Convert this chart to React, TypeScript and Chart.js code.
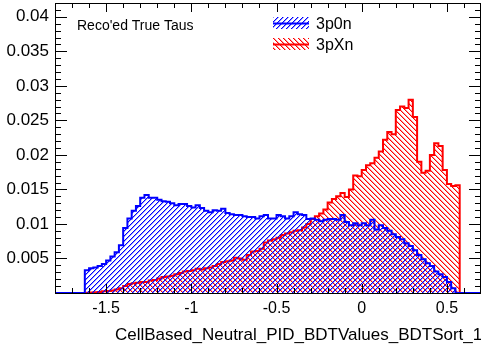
import React, { useEffect, useRef } from "react";
import { Chart, registerables } from "chart.js";
Chart.register(...registerables);

// Histogram binning
const X_MIN = -1.8;
const X_MAX = 0.7;
const BIN_WIDTH = 0.025;
const FIRST_FILLED_EDGE = -1.625;
const Y_MAX = 0.042;

const xTickValues = [-1.5, -1, -0.5, 0, 0.5];
const xTickLabels = ["-1.5", "-1", "-0.5", "0", "0.5"];
const yTickValues = [0.005, 0.01, 0.015, 0.02, 0.025, 0.03, 0.035, 0.04];
const yTickLabels = ["0.005", "0.01", "0.015", "0.02", "0.025", "0.03", "0.035", "0.04"];

const seriesNames = ["3p0n", "3pXn"];
const headerText = "Reco'ed True Taus";
const xTitle = "CellBased_Neutral_PID_BDTValues_BDTSort_1";

const values3p0n = [
  0.0033, 0.0036, 0.0037, 0.0039, 0.0042, 0.0047, 0.0053, 0.0059, 0.0069, 0.0094,
  0.0108, 0.0119, 0.0126, 0.0138, 0.0142, 0.0138, 0.0138, 0.0135, 0.0133, 0.0132,
  0.013, 0.0127, 0.0129, 0.0129, 0.0126, 0.0124, 0.0127, 0.0123, 0.0119, 0.0117,
  0.012, 0.0119, 0.0122, 0.0116, 0.0114, 0.0113, 0.0113, 0.0111, 0.011, 0.011,
  0.0108, 0.0111, 0.0113, 0.0108, 0.0108, 0.0113, 0.0111, 0.0108, 0.0111, 0.0117,
  0.0114, 0.0113, 0.0107, 0.0108, 0.0106, 0.0104, 0.0106, 0.0107, 0.0107, 0.0106,
  0.0113, 0.0103, 0.0098, 0.0101, 0.0098, 0.0101, 0.0098, 0.0106, 0.0092, 0.0098,
  0.0094, 0.009, 0.0085, 0.0081, 0.0078, 0.0072, 0.0068, 0.0062, 0.0055, 0.0049,
  0.0043, 0.0039, 0.0031, 0.0027, 0.0023, 0.0016, 0.0007,
];

const values3pXn = [
  0.00003, 0.00006, 0.0001, 0.00015, 0.00025, 0.0003, 0.00035, 0.0005, 0.0007, 0.001,
  0.0013, 0.0014, 0.0015, 0.0016, 0.0016, 0.0018, 0.0019, 0.0021, 0.0023, 0.0024,
  0.0025, 0.0027, 0.0029, 0.0031, 0.0032, 0.0033, 0.0035, 0.0034, 0.0036, 0.0037,
  0.0039, 0.0042, 0.0045, 0.0046, 0.0047, 0.0051, 0.005, 0.0048, 0.0055, 0.006,
  0.0061, 0.0064, 0.0073, 0.0076, 0.0078, 0.008, 0.0084, 0.0086, 0.0088, 0.009,
  0.0091, 0.0095, 0.01, 0.0107, 0.0111, 0.0115, 0.0121, 0.0131, 0.0136, 0.014,
  0.0145, 0.0139, 0.015, 0.017, 0.0169, 0.0178, 0.0185, 0.0188, 0.0196, 0.0205,
  0.0222, 0.0233, 0.023, 0.0265, 0.027, 0.0268, 0.028, 0.0255, 0.019, 0.0174,
  0.0177, 0.02, 0.0217, 0.0213, 0.0178, 0.0158, 0.0155, 0.0156,
];

const FONT = "'Liberation Sans', Arial, Helvetica, sans-serif";

function histPoints(values: number[]) {
  const nBins = Math.round((X_MAX - X_MIN) / BIN_WIDTH);
  const offset = Math.round((FIRST_FILLED_EDGE - X_MIN) / BIN_WIDTH);
  const pts: { x: number; y: number }[] = [];
  for (let i = 0; i < nBins; i++) {
    const j = i - offset;
    const v = j >= 0 && j < values.length ? values[j] : 0;
    pts.push({ x: X_MIN + i * BIN_WIDTH, y: v });
  }
  pts.push({ x: X_MAX, y: 0 });
  return pts;
}

function makeHatch(color: string, dir: "/" | "\\") {
  const s = 5;
  const c = document.createElement("canvas");
  c.width = s;
  c.height = s;
  const g = c.getContext("2d")!;
  g.fillStyle = color;
  for (let i = 0; i < s; i++) {
    const y = dir === "/" ? s - 1 - i : i;
    g.globalAlpha = 1;
    g.fillRect(i, y, 1, 1);
    g.globalAlpha = 0.4;
    g.fillRect((i + 1) % s, y, 1, 1);
  }
  return g.createPattern(c, "repeat")!;
}

export default function App() {
  const ref = useRef<HTMLCanvasElement>(null);

  useEffect(() => {
    const canvas = ref.current!;
    const ctx = canvas.getContext("2d")!;
    const bluePat = makeHatch("#0000ff", "/");
    const redPat = makeHatch("#ff0000", "\\");

    const framePlugin = {
      id: "rootFrame",
      afterDraw(chart: any) {
        const c = chart.ctx as CanvasRenderingContext2D;
        const area = chart.chartArea;
        const L = Math.round(area.left);
        const R = Math.round(area.right);
        const T = Math.round(area.top);
        const B = Math.round(area.bottom);
        const xs = chart.scales.x;
        const ys = chart.scales.y;
        c.save();
        c.fillStyle = "#000000";
        // frame
        c.fillRect(L, T, R - L, 1);
        c.fillRect(L, B, R - L, 1);
        c.fillRect(L, T, 1, B - T + 1);
        c.fillRect(R - 1, T, 1, B - T + 1);
        // x ticks (bottom and top)
        for (let i = -18; i <= 7; i++) {
          const px = Math.round(xs.getPixelForValue(i / 10));
          const len = i % 5 === 0 ? 9 : 5;
          c.fillRect(px, B - len, 1, len);
          c.fillRect(px, T, 1, len);
        }
        // y ticks (left and right)
        for (let i = 1; i <= 42; i++) {
          const py = Math.round(ys.getPixelForValue(i / 1000));
          const len = i % 5 === 0 ? 12 : 6;
          c.fillRect(L, py, len, 1);
          c.fillRect(R - len, py, len, 1);
        }
        // header
        c.textAlign = "left";
        c.textBaseline = "alphabetic";
        c.font = `14px ${FONT}`;
        c.fillText(headerText, 77, 30);
        // legend
        const entries = [
          { name: seriesNames[0], color: "#0000ff", pat: bluePat, y0: 17, y1: 29, ly: 23.5, ty: 29 },
          { name: seriesNames[1], color: "#ff0000", pat: redPat, y0: 38, y1: 50, ly: 44.5, ty: 50 },
        ];
        for (const e of entries) {
          c.fillStyle = e.pat;
          c.fillRect(273, e.y0, 36, e.y1 - e.y0);
          c.strokeStyle = e.color;
          c.lineWidth = 2;
          c.beginPath();
          c.moveTo(273, e.ly);
          c.lineTo(309, e.ly);
          c.stroke();
          c.fillStyle = "#000000";
          c.font = `16px ${FONT}`;
          c.fillText(e.name, 316, e.ty);
        }
        // x-axis title
        c.fillStyle = "#000000";
        c.font = `17px ${FONT}`;
        c.fillText(xTitle, 115, 340);
        c.restore();
      },
    };

    const chart = new Chart(ctx, {
      type: "line",
      data: {
        datasets: [
          {
            label: seriesNames[0],
            data: histPoints(values3p0n),
            stepped: true,
            borderColor: "#0000ff",
            borderWidth: 2,
            backgroundColor: bluePat as any,
            fill: "origin",
            pointRadius: 0,
          },
          {
            label: seriesNames[1],
            data: histPoints(values3pXn),
            stepped: true,
            borderColor: "#ff0000",
            borderWidth: 2,
            backgroundColor: redPat as any,
            fill: "origin",
            pointRadius: 0,
          },
        ],
      },
      options: {
        animation: false,
        responsive: false,
        devicePixelRatio: 1,
        events: [],
        layout: { padding: { top: 3, right: 0, left: 0, bottom: 0 } },
        plugins: { legend: { display: false }, tooltip: { enabled: false } },
        scales: {
          x: {
            type: "linear",
            min: X_MIN,
            max: X_MAX,
            grid: { display: false, drawTicks: false },
            border: { display: false },
            afterBuildTicks: (s: any) => {
              s.ticks = xTickValues.map((v) => ({ value: v }));
            },
            afterFit: (s: any) => {
              s.height = 58;
              s.paddingLeft = 0;
              s.paddingRight = 0;
            },
            ticks: {
              autoSkip: false,
              maxRotation: 0,
              padding: 6,
              color: "#000",
              font: { family: FONT, size: 16 },
              callback: (_v: any, i: number) => xTickLabels[i],
            },
          },
          y: {
            type: "linear",
            min: 0,
            max: Y_MAX,
            grid: { display: false, drawTicks: false },
            border: { display: false },
            afterBuildTicks: (s: any) => {
              s.ticks = yTickValues.map((v) => ({ value: v }));
            },
            afterFit: (s: any) => {
              s.width = 55;
              s.paddingTop = 0;
              s.paddingBottom = 0;
            },
            ticks: {
              autoSkip: false,
              padding: 6,
              color: "#000",
              font: { family: FONT, size: 17 },
              callback: (_v: any, i: number) => yTickLabels[i],
            },
          },
        },
      },
      plugins: [framePlugin],
    });
    return () => chart.destroy();
  }, []);

  return (
    <div style={{ position: "fixed", left: 0, top: 0, width: 481, height: 351, background: "#fff" }}>
      <canvas ref={ref} width={481} height={351} style={{ width: 481, height: 351, display: "block" }} />
      <div
        style={{
          position: "absolute",
          left: 55,
          top: 3,
          width: 426,
          height: 291,
          boxSizing: "border-box",
          border: "1px solid #000",
          pointerEvents: "none",
        }}
      />
    </div>
  );
}
